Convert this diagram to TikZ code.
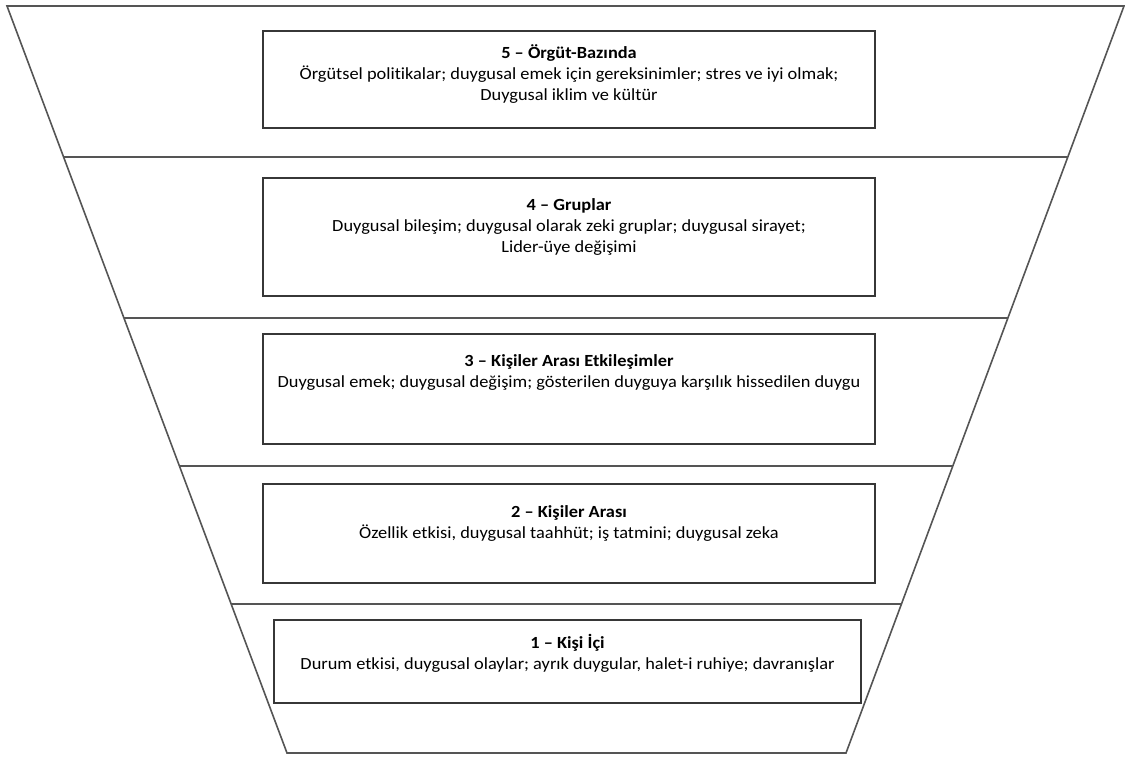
\documentclass[tikz,border=0pt]{standalone}
\usepackage{fontspec}
\setmainfont{Carlito}[FakeStretch=1.08, Ligatures=NoCommon]
\usetikzlibrary{calc}
\definecolor{edgegray}{RGB}{85,85,85}
\definecolor{boxgray}{RGB}{55,55,55}
\tikzset{
  funnel/.style={draw=edgegray, line width=1.6pt, line join=miter},
  divider/.style={draw=edgegray, line width=1.6pt},
  levelbox/.style={draw=boxgray, line width=1.6pt, rectangle, inner sep=0pt},
  leveltext/.style={align=center, inner sep=0pt, anchor=base,
    font=\fontsize{17}{21}\selectfont, text=black},
}
\begin{document}
\begin{tikzpicture}[x=1pt, y=-1pt]
\useasboundingbox (0,0) rectangle (1125,758);

% funnel outline
\coordinate (TL) at (7,6);
\coordinate (TR) at (1124,6);
\coordinate (BR) at (846,753);
\coordinate (BL) at (287,753);
\draw[funnel] (TL) -- (TR) -- (BR) -- (BL) -- cycle;

% level separators
\foreach \t/\n in {0.2021/a, 0.4177/b, 0.6158/c, 0.8005/d}{
  \coordinate (L\n) at ($(TL)!\t!(BL)$);
  \coordinate (R\n) at ($(TR)!\t!(BR)$);
  \draw[divider] (L\n) -- (R\n);
}

% level boxes
\node[levelbox, minimum width=612, minimum height=97]  (b5) at (569,79.5) {};
\node[levelbox, minimum width=612, minimum height=118] (b4) at (569,237) {};
\node[levelbox, minimum width=612, minimum height=110] (b3) at (569,389) {};
\node[levelbox, minimum width=612, minimum height=99]  (b2) at (569,533.5) {};
\node[levelbox, minimum width=587, minimum height=83]  (b1) at (567.5,661.5) {};

% level texts (anchored on the baseline of their last line)
\node[leveltext] (t5) at ($(b5.north)+(0,70)$)
  {\textbf{5 – Örgüt-Bazında}\\
   Örgütsel politikalar; duygusal emek için gereksinimler; stres ve iyi olmak;\\
   Duygusal iklim ve kültür};
\node[leveltext] (t4) at ($(b4.north)+(0,75)$)
  {\textbf{4 – Gruplar}\\
   Duygusal bileşim; duygusal olarak zeki gruplar; duygusal sirayet;\\
   Lider-üye değişimi};
\node[leveltext] (t3) at ($(b3.north)+(0,54)$)
  {\textbf{3 – Kişiler Arası Etkileşimler}\\
   Duygusal emek; duygusal değişim; gösterilen duyguya karşılık hissedilen duygu};
\node[leveltext] (t2) at ($(b2.north)+(0,55)$)
  {\textbf{2 – Kişiler Arası}\\
   Özellik etkisi, duygusal taahhüt; iş tatmini; duygusal zeka};
\node[leveltext] (t1) at ($(b1.north)+(0,50)$)
  {\textbf{1 – Kişi İçi}\\
   Durum etkisi, duygusal olaylar; ayrık duygular, halet-i ruhiye; davranışlar};
\end{tikzpicture}
\end{document}
